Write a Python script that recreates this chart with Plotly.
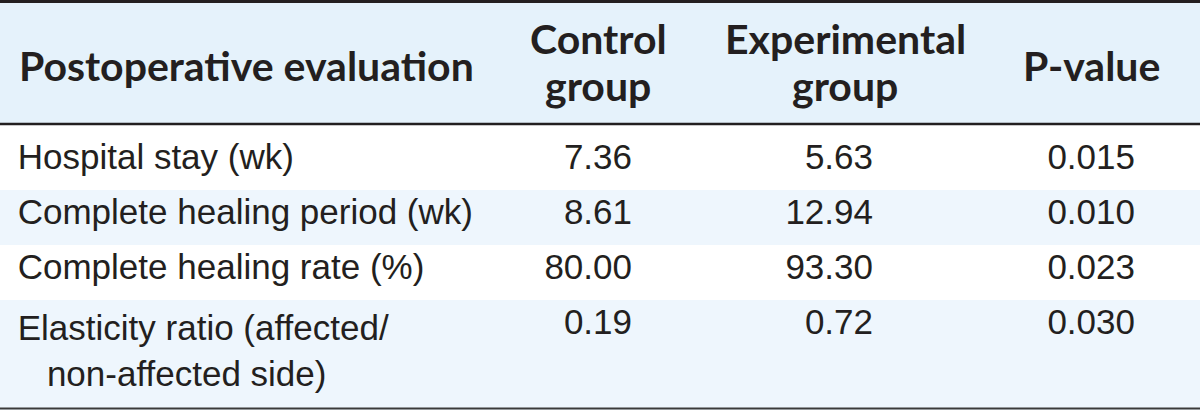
import plotly.graph_objects as go

# ---- data ----
header_labels = ["Postoperative evaluation", "Control", "group", "Experimental", "group", "P-value"]
measures = ["Hospital stay (wk)", "Complete healing period (wk)", "Complete healing rate (%)",
            "Elasticity ratio (affected/<br>non-affected side)"]
control = ["7.36", "8.61", "80.00", "0.19"]
experimental = ["5.63", "12.94", "93.30", "0.72"]
p_values = ["0.015", "0.010", "0.023", "0.030"]

# ---- style ----
W, H = 1200, 410
TXT = "#231F20"
HEAD_BG = "#E5F2FB"
STRIPE = "#EEF6FD"
ROW_BG = ["#FFFFFF", STRIPE, "#FFFFFF", STRIPE]
NB = "\u00a0"
HEADER_H = 135

first_col = [NB + m.replace("<br>", "<br>" + NB * 4) for m in measures]
filler = [""] * len(measures)

fig = go.Figure(go.Table(
    columnwidth=[500, 140, 241, 262, 57],
    header=dict(
        values=[""] * 5,
        fill_color="rgba(0,0,0,0)",
        line=dict(width=0, color="rgba(0,0,0,0)"),
        height=HEADER_H,
    ),
    cells=dict(
        values=[first_col, control, experimental, p_values, filler],
        fill_color=[ROW_BG] * 5,
        line=dict(width=0, color="rgba(0,0,0,0)"),
        align=["left", "right", "right", "right", "left"],
        font=dict(family="'Liberation Sans', Arial, sans-serif", size=35, color=TXT),
        height=55,
    ),
    domain=dict(x=[0, 1], y=[0, 1]),
))

def band(y_top, y_bot, color):
    fig.add_shape(type="rect", xref="paper", yref="paper", x0=0, x1=1,
                  y0=1 - y_bot / H, y1=1 - y_top / H, fillcolor=color,
                  line=dict(width=0), layer="below")

# header area (beneath the transparent table header) and the tail of the last stripe
band(0, 123, HEAD_BG)
band(123, HEADER_H, "#FFFFFF")
band(400, H, STRIPE)

def hline(ypx, w, color):
    fig.add_shape(type="line", xref="paper", yref="paper", x0=0, x1=1,
                  y0=1 - ypx / H, y1=1 - ypx / H, line=dict(color=color, width=w))

hline(1.5, 3, TXT)
hline(124, 2.5, TXT)
hline(408.5, 2, "#3A3A3A")

# header labels: (x px, y px, anchor)
head_pos = [(17, 65.5, "left"), (598, 38.5, "center"), (598, 86, "center"),
            (845, 38.5, "center"), (845, 86, "center"), (1091, 65.5, "center")]
for lab, (xp, yp, anc) in zip(header_labels, head_pos):
    fig.add_annotation(x=xp / W, y=1 - yp / H, xref="paper", yref="paper",
                       text="<b>%s</b>" % lab, showarrow=False, xanchor=anc, yanchor="middle",
                       font=dict(family="Lato, 'Noto Sans', sans-serif", size=41, color=TXT))

fig.update_layout(width=W, height=H, margin=dict(l=0, r=0, t=0, b=0),
                  paper_bgcolor="white", plot_bgcolor="white")
fig.write_html("out.html", config={"displayModeBar": False},
               post_script="document.body.style.margin='0';")
